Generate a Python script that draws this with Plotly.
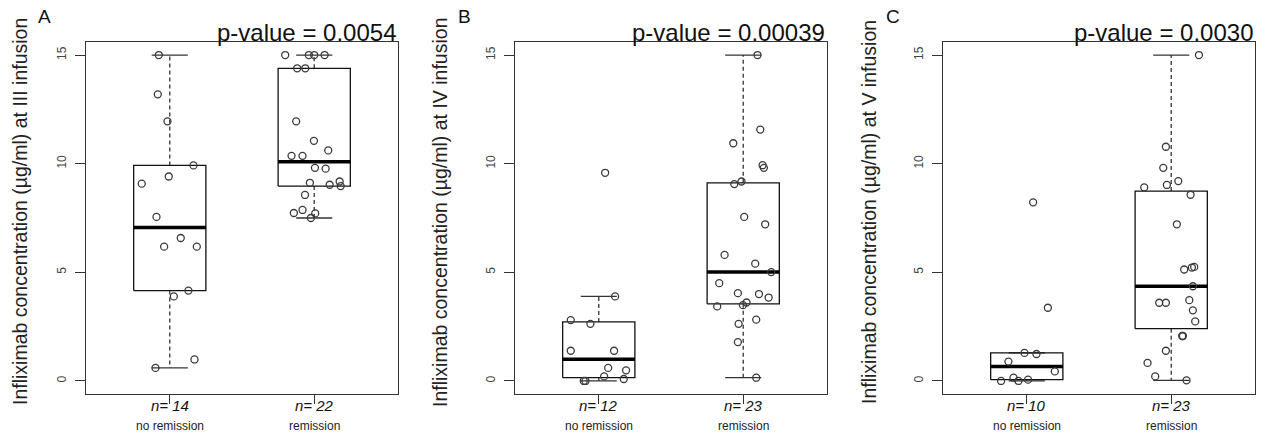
import plotly.graph_objects as go
import numpy as np

# ---------------- data ----------------
groups = ["no remission", "remission"]

# Panel A: III infusion
a_no_vals = [15.0, 13.19, 11.95, 9.92, 9.41, 9.08, 7.55, 6.58, 6.18, 6.18, 4.16, 3.89, 0.99, 0.60]
a_no_jit = [0.924, 0.917, 0.984, 1.164, 0.993, 0.806, 0.908, 1.076, 0.961, 1.187, 1.129, 1.028, 1.171, 0.901]
a_re_vals = [15.0, 15.0, 15.0, 15.0, 14.39, 14.39, 11.95, 11.05, 10.61, 10.36, 10.36, 9.81, 9.77, 9.12,
             9.03, 9.18, 8.97, 8.56, 7.73, 7.87, 7.71, 7.50]
a_re_jit = [1.799, 1.963, 2.072, 2.000, 1.882, 1.938, 1.875, 1.998, 2.097, 1.843, 1.919, 2.005, 2.079, 1.970,
            2.107, 2.176, 2.183, 1.936, 1.859, 1.919, 2.007, 1.977]

# Panel B: IV infusion
b_no_vals = [9.58, 3.89, 2.80, 2.63, 1.39, 1.39, 0.60, 0.49, 0.21, 0.09, 0.0, 0.0]
b_no_jit = [1.044, 1.113, 0.806, 0.942, 0.806, 1.106, 1.065, 1.189, 1.037, 1.173, 0.896, 0.908]
b_re_vals = [15.0, 11.57, 10.94, 9.93, 9.81, 9.06, 9.18, 7.55, 7.21, 5.80, 5.40, 5.01, 4.50, 4.04, 4.00,
             3.84, 3.61, 3.49, 3.43, 2.82, 2.63, 1.79, 0.15]
b_re_jit = [2.099, 2.118, 1.931, 2.134, 2.143, 1.938, 1.988, 2.007, 2.152, 1.871, 2.083, 2.194, 1.834, 1.963,
            2.109, 2.176, 2.023, 1.998, 1.820, 2.090, 1.968, 1.963, 2.090]

# Panel C: V infusion
c_no_vals = [8.22, 3.37, 1.29, 1.24, 0.89, 0.44, 0.15, 0.0, 0.0, 0.06]
c_no_jit = [1.044, 1.146, 0.984, 1.067, 0.873, 1.194, 0.908, 0.822, 0.942, 1.009]
c_re_vals = [15.0, 10.78, 9.81, 9.02, 9.20, 8.91, 8.57, 7.21, 5.13, 5.22, 5.25, 4.36, 3.60, 3.60, 3.72,
             3.25, 2.74, 2.07, 2.07, 1.39, 0.83, 0.21, 0.03]
c_re_jit = [2.192, 1.963, 1.945, 1.970, 2.049, 1.813, 2.134, 2.039, 2.090, 2.143, 2.159, 2.150, 1.917, 1.963,
            2.125, 2.150, 2.166, 2.076, 2.081, 1.963, 1.836, 1.889, 2.106]

panel_letters = ["A", "B", "C"]
p_values = ["p-value = 0.0054", "p-value = 0.00039", "p-value = 0.0030"]
y_titles = ["Infliximab concentration (\u00b5g/ml) at III infusion",
            "Infliximab concentration (\u00b5g/ml) at IV infusion",
            "Infliximab concentration (\u00b5g/ml) at V infusion"]
y_ticks = [0, 5, 10, 15]

panels = [
    ((a_no_vals, a_no_jit), (a_re_vals, a_re_jit)),
    ((b_no_vals, b_no_jit), (b_re_vals, b_re_jit)),
    ((c_no_vals, c_no_jit), (c_re_vals, c_re_jit)),
]

# ---------------- helpers ----------------
def fivenum(x):
    x = np.sort(np.asarray(x, float))
    n = len(x)
    n4 = np.floor((n + 3) / 2) / 2
    d = np.array([1, n4, (n + 1) / 2, n + 1 - n4, n]) - 1
    return 0.5 * (x[np.floor(d).astype(int)] + x[np.ceil(d).astype(int)])

def box_stats(x):
    x = np.asarray(x, float)
    f = fivenum(x)
    iqr = f[3] - f[1]
    lo = x[x >= f[1] - 1.5 * iqr].min()
    hi = x[x <= f[3] + 1.5 * iqr].max()
    return lo, f[1], f[2], f[3], hi

W = 1265
H = 433
frame_x = [(86, 398), (515, 827), (943, 1255)]
frame_top, frame_bot = 42, 394
title_x = [20, 440, 869]
letter_x = [44, 464, 893]

def px(v):
    return v / W

def py(v):
    return 1 - v / H

fig = go.Figure()
FRAME = "#333333"
PT = "#3a3a3a"
BW = 0.25
CW = 0.125

for i, panel in enumerate(panels):
    xa = "x" if i == 0 else f"x{i+1}"
    ya = "y" if i == 0 else f"y{i+1}"
    for g, (vals, jit) in enumerate(panel):
        c = g + 1
        lo, q1, med, q3, hi = box_stats(vals)
        fig.add_trace(go.Scatter(x=[c, c, None, c, c], y=[q3, hi, None, q1, lo], mode="lines",
                                 line=dict(color=FRAME, width=1.3, dash="4px,3px"),
                                 xaxis=xa, yaxis=ya, hoverinfo="skip", showlegend=False))
        fig.add_trace(go.Scatter(x=[c - CW, c + CW, None, c - CW, c + CW], y=[hi, hi, None, lo, lo],
                                 mode="lines", line=dict(color=FRAME, width=1.3),
                                 xaxis=xa, yaxis=ya, hoverinfo="skip", showlegend=False))
        fig.add_trace(go.Scatter(x=[c - BW, c + BW, c + BW, c - BW, c - BW], y=[q1, q1, q3, q3, q1],
                                 mode="lines", line=dict(color="#111111", width=1.3),
                                 xaxis=xa, yaxis=ya, hoverinfo="skip", showlegend=False))
        fig.add_trace(go.Scatter(x=[c - BW, c + BW], y=[med, med], mode="lines",
                                 line=dict(color="#000000", width=3.5),
                                 xaxis=xa, yaxis=ya, hoverinfo="skip", showlegend=False))
        fig.add_trace(go.Scatter(x=jit, y=vals, mode="markers",
                                 marker=dict(symbol="circle-open", size=7, color=PT, line=dict(width=1.3, color=PT)),
                                 xaxis=xa, yaxis=ya, showlegend=False, name=groups[g]))

layout = dict(width=W, height=H, margin=dict(l=0, r=0, t=0, b=0),
              paper_bgcolor="white", plot_bgcolor="white",
              font=dict(family="Liberation Sans, Arial, sans-serif", color="#222222"),
              showlegend=False)
annotations = []
for i in range(3):
    suf = "" if i == 0 else str(i + 1)
    x0, x1 = frame_x[i]
    layout["xaxis" + suf] = dict(domain=[px(x0), px(x1)], range=[0.42, 2.58], anchor="y" + suf,
                                 showline=True, mirror=True, linecolor=FRAME, linewidth=1.3,
                                 tickvals=[1, 2], ticktext=["", ""], ticks="outside", ticklen=9,
                                 tickcolor=FRAME, tickwidth=1, showgrid=False, zeroline=False)
    layout["yaxis" + suf] = dict(domain=[py(frame_bot), py(frame_top)], range=[-0.6, 15.6], anchor="x" + suf,
                                 showline=True, mirror=True, linecolor=FRAME, linewidth=1.3,
                                 tickvals=y_ticks, ticktext=[str(t) for t in y_ticks], ticks="outside",
                                 ticklen=10, tickcolor=FRAME, tickwidth=1, tickangle=-90,
                                 tickfont=dict(size=12, color="#444444"), ticklabelstandoff=4,
                                 showgrid=False, zeroline=False)
    xref = "x" + suf
    panel = panels[i]
    for g in range(2):
        n = len(panel[g][0])
        annotations.append(dict(x=g + 1, y=py(405), xref=xref, yref="paper", text=f"<i>n= {n}</i>",
                                showarrow=False, font=dict(size=15, color="#111111"),
                                xanchor="center", yanchor="middle"))
        annotations.append(dict(x=g + 1, y=py(426), xref=xref, yref="paper", text=groups[g],
                                showarrow=False, font=dict(size=12, color="#222222"),
                                xanchor="center", yanchor="middle"))
    annotations.append(dict(x=px(x1), y=py(frame_top), xref="paper", yref="paper", text=p_values[i],
                            showarrow=False, font=dict(size=24, color="#111111"),
                            xanchor="right", yanchor="bottom", yshift=-6))
    annotations.append(dict(x=px(letter_x[i]), y=py(16), xref="paper", yref="paper", text=panel_letters[i],
                            showarrow=False, font=dict(size=19, color="#111111"),
                            xanchor="center", yanchor="middle"))
    annotations.append(dict(x=px(title_x[i]), y=py(212), xref="paper", yref="paper", text=y_titles[i],
                            showarrow=False, textangle=-90, font=dict(size=19.5, color="#222222"),
                            xanchor="center", yanchor="middle"))
layout["annotations"] = annotations
fig.update_layout(**layout)
fig.write_html("out.html", config={"displayModeBar": False},
               post_script="document.body.style.margin='0';document.body.style.overflow='hidden';")
